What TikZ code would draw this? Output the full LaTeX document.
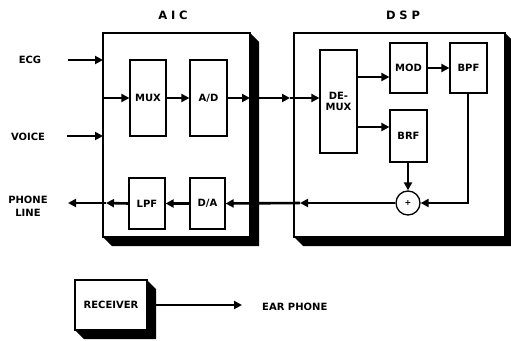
\documentclass[tikz,border=0pt]{standalone}
\usepackage{fontspec}
\setmainfont{DejaVu Sans}
\usetikzlibrary{arrows.meta}
\tikzset{
  blk/.style={draw, line width=1.2pt, fill=white, inner sep=0pt, font=\fontsize{10}{11}\selectfont\bfseries},
  lbl/.style={inner sep=0pt, font=\fontsize{10}{13}\selectfont\bfseries, align=center},
  ttl/.style={inner sep=0pt, font=\fontsize{11.5}{13}\selectfont\bfseries},
  conn/.style={line width=2.6pt, -{Triangle[length=8pt,width=8pt]}},
  frame/.style={draw, line width=1.3pt},
  shadow/.style={fill=black}
}
\begin{document}
\begin{tikzpicture}[x=1pt,y=-1pt]
\useasboundingbox (0,0) rectangle (511,340);
\clip (0,0) rectangle (511,340);
% AIC frame
\fill[shadow] (250,33) -- (259,42) -- (259,246) -- (112,246) -- (103,237) -- (250,237) -- cycle;
\draw[frame] (103,33) rectangle (250,237);
% DSP frame
\fill[shadow] (505,33) -- (514,42) -- (514,246) -- (303,246) -- (294,237) -- (505,237) -- cycle;
\draw[frame] (294,33) rectangle (505,237);
\node[ttl] (taic) at (173,15) {A\,\,I\,\,C};
\node[ttl] (tdsp) at (403,15) {D\,\,S\,\,P};
% labels
\node[lbl] (ecg) at (30,60) {ECG};
\node[lbl] (voice) at (28,137) {VOICE};
\node[lbl] (phone) at (28,206) {PHONE\\LINE};
\node[lbl, anchor=west] (ear) at (262,307) {EAR PHONE};
% AIC blocks
\node[blk, minimum width=36pt, minimum height=76pt] (mux) at (148,98) {MUX};
\node[blk, minimum width=37pt, minimum height=76pt] (ad) at (208.5,98) {A/D};
\node[blk, minimum width=36pt, minimum height=51pt] (lpf) at (147,203.5) {LPF};
\node[blk, minimum width=35pt, minimum height=51pt] (da) at (207.5,203.5) {D/A};
% DSP blocks
\node[blk, minimum width=37pt, minimum height=103pt, align=center] (demux) at (338.5,101.5) {DE-\\MUX};
\node[blk, minimum width=37pt, minimum height=50pt] (mod) at (408.5,68) {MOD};
\node[blk, minimum width=37pt, minimum height=50pt] (bpf) at (468.5,68) {BPF};
\node[blk, minimum width=37pt, minimum height=52pt] (brf) at (408.5,136) {BRF};
\node[draw, circle, line width=1.3pt, minimum size=24pt, inner sep=0pt, font=\fontsize{8}{8}\selectfont\bfseries] (sum) at (408,203) {+};
% receiver
\fill[shadow] (147,280) -- (156,289) -- (156,339) -- (84,339) -- (75,330) -- (147,330) -- cycle;
\node[blk, minimum width=72pt, minimum height=50pt] (rec) at (111,305) {RECEIVER};
% coordinates
\coordinate (ecgs) at (68,60);
\coordinate (ecge) at (103,60);
\coordinate (vos) at (67,136);
\coordinate (voe) at (103,136);
\coordinate (muxin) at (103,98);
\coordinate (aicout) at (250,98);
\coordinate (dspin) at (290,98);
\coordinate (bpfc) at (468,203);
\coordinate (dspout) at (300,203);
\coordinate (lpfo) at (106,203);
\coordinate (phe) at (68,203);
\coordinate (earp) at (242,305);
% connectors
\draw[conn] (ecgs) -- (ecge);
\draw[conn] (vos) -- (voe);
\draw[conn] (muxin) -- (mux.west);
\draw[conn] (mux) -- (ad);
\draw[conn] (ad) -- (aicout);
\draw[conn] (aicout) -- (dspin);
\draw[conn] (dspin) -- (demux.west |- dspin);
\draw[conn] (demux.east |- 0,77) -- (mod.west |- 0,77);
\draw[conn] (demux.east |- 0,127) -- (brf.west |- 0,127);
\draw[conn] (mod) -- (bpf);
\draw[conn] (bpf.south -| bpfc) -- (bpfc) -- (sum.east);
\draw[conn] (brf.south -| sum) -- (sum.north);
\draw[conn] (sum.west) -- (dspout);
\draw[conn] (dspout) -- (da.east);
\draw[conn] (da) -- (lpf);
\draw[conn] (lpf.west) -- (lpfo);
\draw[conn] (lpfo) -- (phe);
\draw[conn] (rec.east) -- (earp);
\end{tikzpicture}
\end{document}
